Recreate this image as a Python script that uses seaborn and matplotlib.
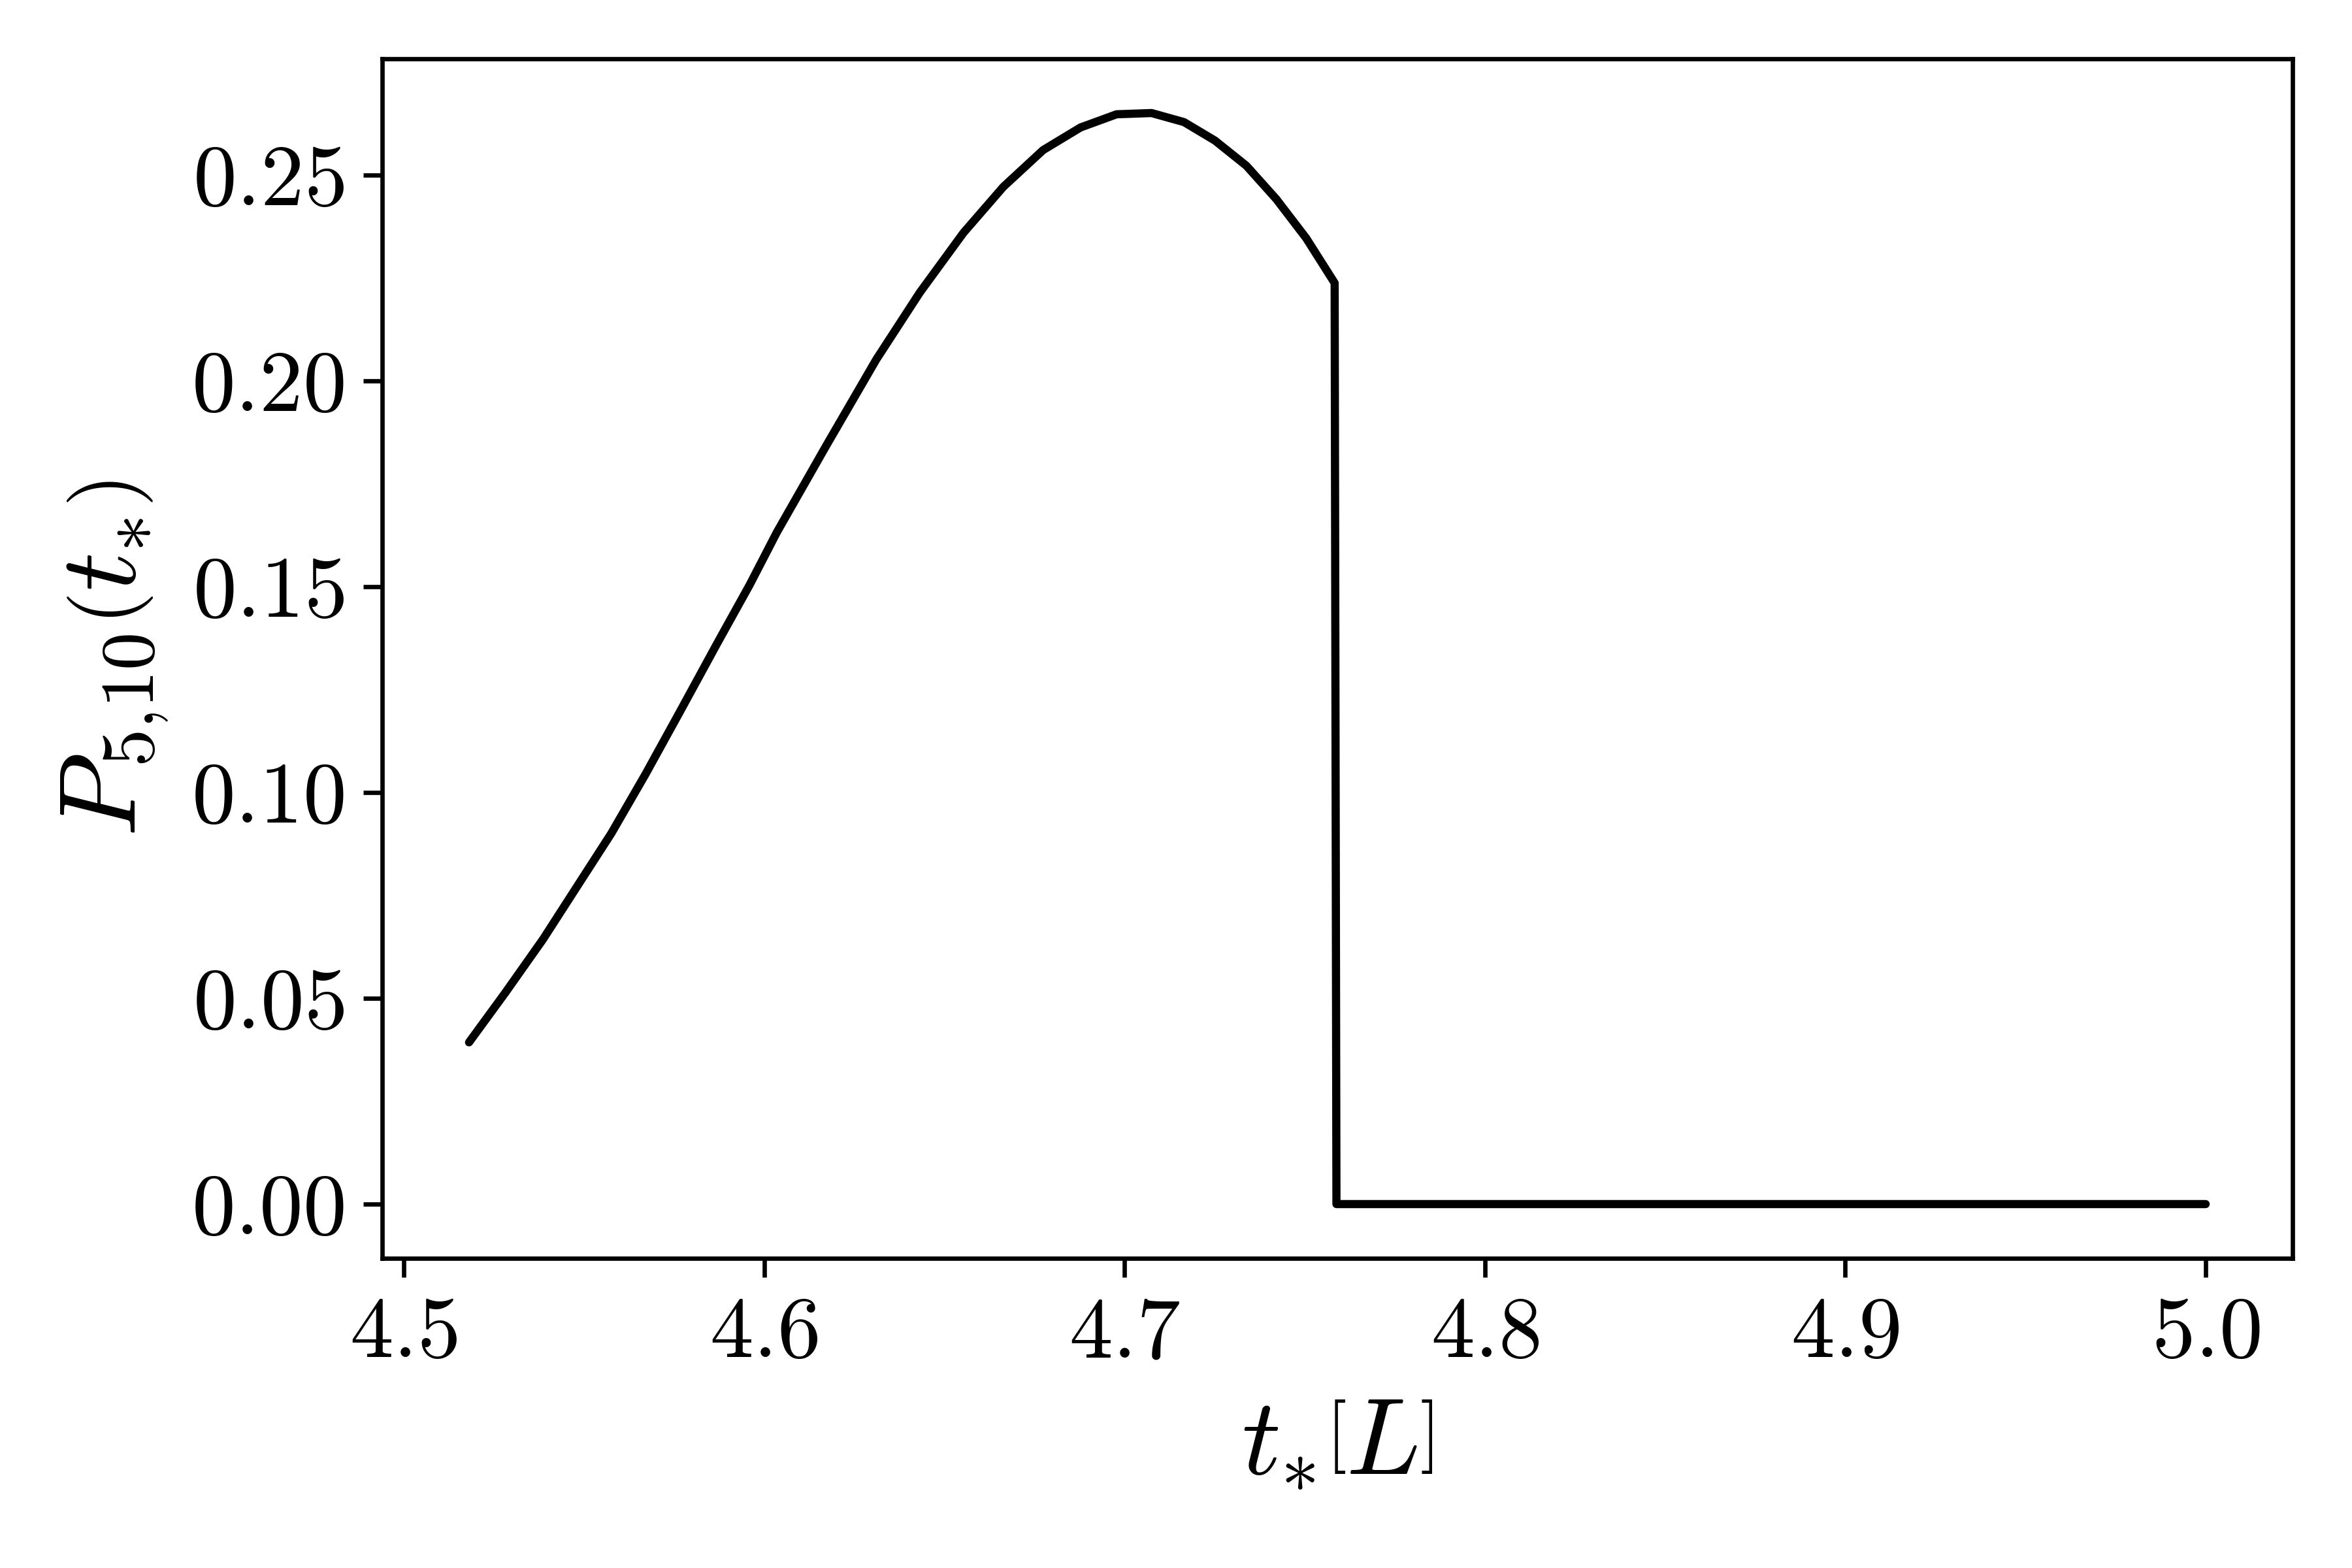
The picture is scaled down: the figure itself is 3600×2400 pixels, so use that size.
import numpy as np
import pandas as pd
import matplotlib
matplotlib.use("Agg")
import matplotlib.pyplot as plt
import seaborn as sns

# Data
t_star = [4.5181, 4.5282, 4.5386, 4.5481, 4.5576, 4.5671, 4.5766, 4.5870,
          4.5960, 4.6035, 4.6173, 4.6311, 4.6432, 4.6553, 4.6664, 4.6774,
          4.6878, 4.6978, 4.7075, 4.7165, 4.7251, 4.7338, 4.7421, 4.7504,
          4.7583,
          4.7588, 4.8000, 4.8500, 4.9000, 4.9500, 5.0000]
prob = [0.0393, 0.0514, 0.0643, 0.0772, 0.0901, 0.1045, 0.1196, 0.1363,
        0.1505, 0.1632, 0.1844, 0.2052, 0.2215, 0.2360, 0.2472, 0.2561,
        0.2616, 0.2648, 0.2651, 0.2629, 0.2584, 0.2523, 0.2442, 0.2347,
        0.2238,
        0.0, 0.0, 0.0, 0.0, 0.0, 0.0]

x_ticks = [4.5, 4.6, 4.7, 4.8, 4.9, 5.0]
y_ticks = [0.00, 0.05, 0.10, 0.15, 0.20, 0.25]

sns.set_theme(style="ticks")
plt.rcParams.update({
    "font.family": ["cmr10", "DejaVu Sans"],
    "mathtext.fontset": "cm",
    "axes.formatter.use_mathtext": True,
    "axes.unicode_minus": False,
    "axes.edgecolor": "black",
    "axes.labelcolor": "black",
    "text.color": "black",
    "xtick.color": "black",
    "ytick.color": "black",
    "axes.linewidth": 0.8,
    "xtick.major.size": 3.5,
    "ytick.major.size": 3.5,
    "xtick.major.width": 0.8,
    "ytick.major.width": 0.8,
    "xtick.major.pad": 3.5,
    "ytick.major.pad": 3.5,
})

df = pd.DataFrame({"t": t_star, "P": prob})

fig, ax = plt.subplots(figsize=(6, 4), dpi=600)
fig.subplots_adjust(left=0.1625, right=0.9747, top=0.9627, bottom=0.1973)

sns.lineplot(data=df, x="t", y="P", color="black", linewidth=1.5,
             sort=False, ax=ax)

ax.set_xticks(x_ticks)
ax.set_yticks(y_ticks)
ax.set_xticklabels([f"${v:.1f}$" for v in x_ticks], fontsize=16)
ax.set_yticklabels([f"${v:.2f}$" for v in y_ticks], fontsize=16)
ax.set_xlabel(r"$t_{*}\left[L\right]$", fontsize=20)
ax.set_ylabel(r"$P_{5{,}10}\left(t_{*}\right)$", fontsize=20)

fig.savefig("out.png", dpi=600)
